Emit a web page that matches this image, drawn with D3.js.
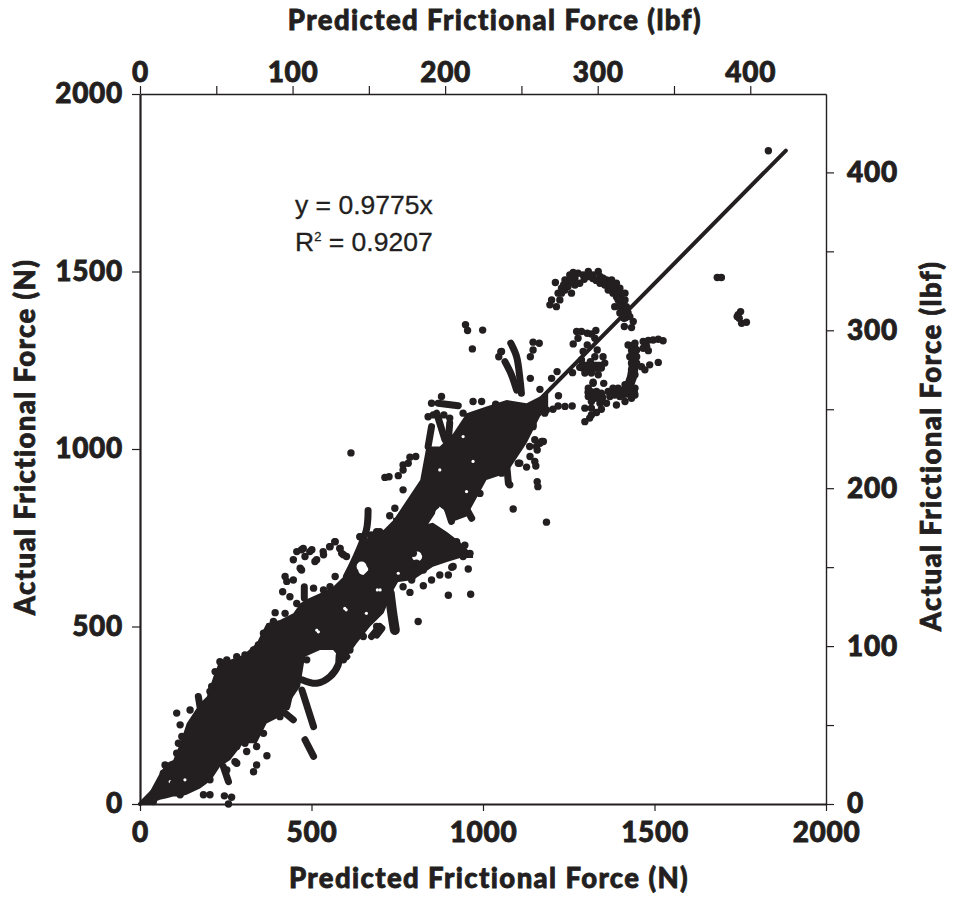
<!DOCTYPE html>
<html lang="en">
<head>
<meta charset="utf-8">
<script src="https://d3js.org/d3.v7.min.js"></script>
<style>
  html, body { margin: 0; background: #fff; }
  svg { display: block; }
  .heavy { font-family: Lato, "Open Sans", sans-serif; font-weight: 900; fill: #231f20; stroke: #231f20; stroke-width: 0.8px; letter-spacing: 1.4px; }
  .axis path, .axis line { stroke: #231f20; }
  .axis text { font-family: Lato, sans-serif; font-weight: 900; font-size: 28px; letter-spacing: 0.7px; fill: #231f20; stroke: #231f20; stroke-width: 0.8px; }
</style>
</head>
<body>
<svg id="chart" width="953" height="898"></svg>
<script>
// everything is in newtons unless the name says lbf
const forceTicks = [0, 500, 1000, 1500, 2000];
const lbfTicks = [0, 50, 100, 150, 200, 250, 300, 350, 400];
const lbfLabels = [0, 100, 200, 300, 400];
const fitSlope = 0.9775;
const fitEnd = 1883;

// solid part of the cloud, too dense to read single points
const bandPredicted = [0, 29, 58, 78, 97, 117, 136, 156, 175, 195, 214, 233, 263, 301, 340, 369, 408, 447, 467, 481, 525, 563, 593, 632, 671, 710, 739, 778, 817, 835, 874, 913, 952, 1010, 1069, 1127, 1166, 1190];
const bandHigh = [0, 35, 87, 115, 124, 171, 227, 256, 284, 303, 359, 406, 406, 420, 453, 509, 518, 537, 565, 575, 594, 612, 640, 697, 763, 772, 800, 856, 913, 1007, 1007, 1044, 1101, 1120, 1138, 1129, 1148, 1157];
const bandLow = [0, 0, 12, 16, 21, 21, 26, 35, 44, 58, 77, 105, 124, 171, 171, 227, 246, 303, 331, 415, 434, 434, 401, 453, 500, 537, 603, 669, 697, 781, 838, 796, 810, 913, 932, 1016, 1091, 1120];

// lobe hanging off the lower side of the band
const lobePredicted = [738, 796, 854, 895, 933, 971];
const lobeHigh = [808, 780, 792, 766, 738, 701];
const lobeLow = [623, 631, 668, 682, 693, 693];

// white openings inside the solid part
const wideGaps = [[646,669],[808,697],[875,819],[889,800],[651,659]];
const thinGaps = [[692,603],[874,941],[952,880],[971,965],[942,1035],[597,551],[515,490],[660,537],[520,485],[601,547],[700,603],[88,63],[131,68],[753,650]];

// single points, grouped by where they sit
const farPoints = [[1832,1840],[1683,1483],[1695,1483],[1751,1387],[1744,1378],[1747,1368],[1754,1354],[1768,1357],[1741,1373],[615,989],[1088,831],[1185,794]];
const arcPoints = [[1195,1406],[1214,1401],[1224,1420],[1200,1420],[1219,1439],[1229,1439],[1239,1448],[1258,1439],[1248,1458],[1268,1462],[1282,1467],[1211,1469],[1239,1476],[1253,1490],[1263,1497],[1277,1495],[1292,1490],[1307,1500],[1321,1490],[1336,1500],[1341,1486],[1341,1467],[1360,1476],[1375,1476],[1389,1467],[1399,1453],[1365,1448],[1379,1439],[1414,1439],[1394,1420],[1414,1420],[1384,1401],[1418,1401],[1399,1383],[1423,1383],[1411,1368],[1438,1359],[1412,1345],[1433,1342],[1428,1373],[1384,1448],[1404,1439],[1350,1481],[1307,1486],[1268,1481],[1243,1462],[1229,1453],[1399,1401],[1389,1429],[1379,1458],[1250,1475],[1260,1470],[1235,1462],[1295,1478],[1320,1480],[1330,1475],[1355,1462],[1370,1462],[1390,1445],[1400,1425]];
const columnPoints = [[1423,1293],[1443,1298],[1433,1279],[1448,1279],[1428,1260],[1448,1260],[1433,1242],[1448,1242],[1433,1223],[1462,1232],[1472,1223],[1443,1209],[1433,1195],[1414,1181],[1443,1171],[1486,1237],[1511,1244],[1467,1303],[1482,1306],[1496,1307],[1511,1309],[1525,1305],[1477,1289],[1467,1284],[1482,1277]];
const lowerRightPoints = [[1379,1171],[1394,1171],[1404,1162],[1384,1152],[1399,1148],[1418,1157],[1433,1162],[1443,1152],[1414,1134],[1433,1143],[1389,1124],[1307,1171],[1311,1157],[1307,1148],[1321,1185],[1352,1185],[1331,1162],[1345,1157],[1365,1162],[1370,1148],[1326,1143],[1316,1134],[1341,1129],[1360,1129],[1345,1112],[1331,1103],[1316,1096],[1311,1087],[1297,1077],[1297,1115],[1316,1115]];
const middlePoints = [[1273,1331],[1287,1331],[1304,1326],[1316,1324],[1329,1334],[1326,1312],[1277,1312],[1263,1296],[1304,1293],[1333,1279],[1326,1260],[1350,1260],[1292,1275],[1287,1251],[1313,1246],[1355,1242],[1345,1228],[1331,1228],[1316,1228],[1302,1230],[1282,1230],[1297,1214],[1316,1214],[1336,1209],[1261,1215],[1216,1218],[1200,1199],[1321,1188],[1220,1150],[1260,1121],[1239,1120],[1219,1121],[1204,1112],[1185,1110],[1166,1168],[1138,1199],[1146,1301],[1164,1298],[1146,1279],[1138,1260],[1054,1275],[1052,1274],[1046,1260],[1146,1068],[1151,1026],[1171,1021],[1156,1007],[1136,1007]];
const upperEdgePoints = [[949,1350],[955,1334],[999,1335],[969,1282],[850,1129],[879,1148],[840,1091],[855,1096],[886,1096],[903,1087],[971,1134],[996,1134],[1037,1126],[942,1101],[787,977],[804,979],[767,955],[782,960],[753,925],[714,920],[726,922],[767,941],[767,885],[728,812],[743,833],[699,767],[675,758],[641,753],[568,739],[553,725],[534,711],[510,683],[495,711],[471,716],[481,697],[471,659],[583,720],[588,706],[602,697],[457,711],[476,720],[501,716],[515,688],[535,702],[554,725],[569,739],[583,720],[593,702],[447,688],[467,664],[423,641],[428,627],[447,631],[416,598],[437,584],[506,608],[457,565],[394,539],[423,537],[569,641],[632,636],[1180,1101],[1146,1063],[209,331],[253,406],[282,415],[306,420],[331,434],[345,448],[360,481],[389,514],[535,603],[554,612],[642,753],[690,767]];
const lowerEdgePoints = [[923,739],[947,729],[962,706],[942,697],[903,706],[860,692],[830,678],[806,678],[796,659],[826,659],[850,631],[874,645],[899,645],[913,669],[957,662],[826,615],[787,596],[899,588],[964,591],[811,514],[1158,908],[1160,894],[1151,965],[1154,952],[1127,949],[1103,960],[1176,1021],[1158,997],[1054,932],[1078,899],[991,875],[767,612],[792,631],[1166,1016],[1137,979],[1107,960],[486,406],[909,667],[831,706],[797,706],[792,636],[146,49],[204,68],[253,96],[282,115],[306,171],[360,199],[408,246],[593,406],[612,434],[651,472],[690,500]];
const leftEdgePoints = [[107,256],[146,265],[117,223],[204,317],[219,373],[233,401],[122,190],[112,171],[107,143],[73,110],[92,110],[68,87],[97,58]];
const bottomPoints = [[185,26],[204,26],[246,23],[267,19],[258,0],[331,91],[340,110],[340,162],[370,136],[277,119],[311,148],[282,162],[117,26],[39,7]];

// runs of overlapping points that read as one stroke
const tracks = [
  [[1081,1298],[1098,1260],[1108,1195],[1112,1157]],
  [[1064,1246],[1083,1209],[1098,1166]],
  [[869,1129],[928,1122]],
  [[865,1101],[889,1026]],
  [[850,1063],[840,1007]],
  [[903,1073],[899,1026]],
  [[665,827],[660,772],[626,688],[602,641]],
  [[479,612],[479,580]],
  [[1069,955],[1074,904]],
  [[937,857],[967,805]],
  [[894,838],[908,796]],
  [[699,500],[675,472]],
  [[472,350],[515,340],[554,359],[578,392],[583,425],[603,415]],
  [[472,321],[506,218]],
  [[481,181],[506,134]],
  [[690,476],[705,495]],
  [[170,303],[175,274]],
  [[258,63],[243,105]],
  [[447,237],[423,256]],
  [[437,312],[428,274]]
];
const thickTracks = [
  [[728,594],[735,540],[743,490]],
  [[1379,1458],[1404,1411],[1414,1373]],
  [[1438,1289],[1438,1223],[1428,1185],[1409,1157]],
  [[1384,1162],[1438,1157]],
  [[1310,1160],[1345,1145]],
  [[1290,1232],[1340,1232]]
];

const pointGroups = [farPoints, arcPoints, columnPoints, lowerRightPoints, middlePoints, upperEdgePoints, lowerEdgePoints, leftEdgePoints, bottomPoints];

const ink = "#231f20";
const svg = d3.select("#chart");

const x = d3.scaleLinear().domain([0, 2000]).range([140, 826]);
const y = d3.scaleLinear().domain([0, 2000]).range([804, 94]);
const xLbf = d3.scaleLinear().domain([0, 2000 / 4.448]).range([140, 826]);
const yLbf = d3.scaleLinear().domain([0, 2000 / 4.448]).range([804, 94]);

// cloud
function drawBand(xs, low, high) {
  const area = d3.area()
    .x((d, i) => x(xs[i]))
    .y0((d, i) => y(low[i]))
    .y1((d, i) => y(high[i]));
  svg.append("path").attr("d", area(xs)).attr("fill", ink);
}
drawBand(bandPredicted, bandLow, bandHigh);
drawBand(lobePredicted, lobeLow, lobeHigh);

function drawGaps(gaps, r) {
  svg.append("g").selectAll("circle").data(gaps).enter().append("circle")
    .attr("cx", d => x(d[0]))
    .attr("cy", d => y(d[1]))
    .attr("r", r)
    .attr("fill", "#fff");
}
drawGaps(wideGaps, 5);
drawGaps(thinGaps, 1.6);

const trackLine = d3.line().x(d => x(d[0])).y(d => y(d[1])).curve(d3.curveCatmullRom);
svg.append("g").selectAll("path").data(tracks).enter().append("path")
  .attr("d", trackLine)
  .attr("fill", "none")
  .attr("stroke", ink)
  .attr("stroke-width", 7)
  .attr("stroke-linecap", "round");
svg.append("g").selectAll("path").data(thickTracks).enter().append("path")
  .attr("d", trackLine)
  .attr("fill", "none")
  .attr("stroke", ink)
  .attr("stroke-width", 10)
  .attr("stroke-linecap", "round");

svg.append("g").selectAll("circle").data(pointGroups.flat()).enter().append("circle")
  .attr("cx", d => x(d[0]))
  .attr("cy", d => y(d[1]))
  .attr("r", 3.7)
  .attr("fill", ink);

// fit line
svg.append("line")
  .attr("x1", x(0)).attr("y1", y(0))
  .attr("x2", x(fitEnd)).attr("y2", y(fitEnd * fitSlope))
  .attr("stroke", ink)
  .attr("stroke-width", 4)
  .attr("stroke-linecap", "round");

// axes
function drawAxis(axis, tx, ty, width) {
  const g = svg.append("g").attr("class", "axis").attr("transform", `translate(${tx},${ty})`).call(axis);
  g.select(".domain").attr("stroke-width", width);
  g.selectAll(".tick line").attr("stroke-width", 1.2);
  return g;
}
drawAxis(d3.axisBottom(x).tickValues(forceTicks).tickSize(7).tickSizeOuter(0).tickPadding(11).tickFormat(d3.format("d")), 0, 804, 2.2);
drawAxis(d3.axisLeft(y).tickValues(forceTicks).tickSize(8).tickSizeOuter(0).tickPadding(9).tickFormat(d3.format("d")), 140, 0, 2.2);
drawAxis(d3.axisTop(xLbf).tickValues(lbfTicks).tickSize(8).tickSizeOuter(0).tickPadding(4)
  .tickFormat(d => lbfLabels.includes(d) ? d : ""), 0, 94, 1.4);
drawAxis(d3.axisRight(yLbf).tickValues(lbfTicks).tickSize(8).tickSizeOuter(0).tickPadding(13)
  .tickFormat(d => lbfLabels.includes(d) ? d : ""), 826, 0, 1.4);

// titles
function title(text, tx, ty, rot) {
  svg.append("text").attr("class", "heavy")
    .attr("text-anchor", "middle")
    .attr("font-size", 27.5)
    .attr("transform", `translate(${tx},${ty}) rotate(${rot})`)
    .text(text);
}
title("Predicted Frictional Force (lbf)", 495, 30, 0);
title("Predicted Frictional Force (N)", 489, 888, 0);
title("Actual Frictional Force (N)", 35, 437, -90);
title("Actual Frictional Force (lbf)", 941, 446, -90);

// equation
const eq = svg.append("g").attr("font-family", "Liberation Sans, sans-serif").attr("font-size", 26.5)
  .attr("fill", ink).attr("stroke", ink).attr("stroke-width", 0.3);
eq.append("text").attr("x", 295).attr("y", 214).text("y = 0.9775x");
const r2 = eq.append("text").attr("x", 295).attr("y", 251);
r2.append("tspan").text("R");
r2.append("tspan").attr("font-size", 13).attr("dy", -10).text("2");
r2.append("tspan").attr("dy", 10).text(" = 0.9207");
</script>
</body>
</html>
